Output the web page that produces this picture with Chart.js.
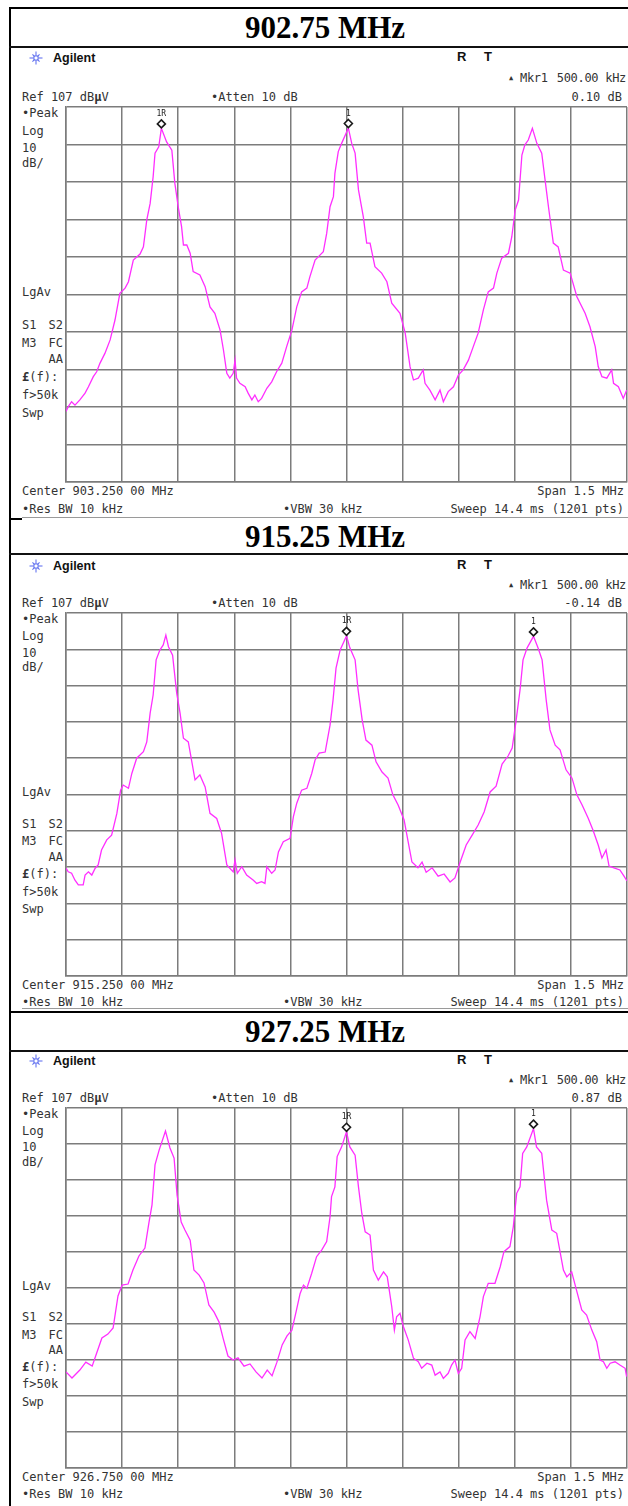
<!DOCTYPE html>
<html>
<head>
<meta charset="utf-8">
<script src="https://cdn.jsdelivr.net/npm/chart.js@4.4.1/dist/chart.umd.min.js"></script>
<style>
  html, body { margin: 0; padding: 0; background: #fff; overflow: hidden; }
  #page { position: relative; width: 628px; height: 1506px; overflow: hidden; background: #fff; }
  .rule { position: absolute; }
  .t { position: absolute; white-space: pre; font-family: "DejaVu Sans Mono", monospace; font-size: 12px;
       line-height: 14px; color: #333; transform: translateY(-50%); }
  .title { position: absolute; white-space: pre; font-family: "Liberation Serif", "Times New Roman", serif;
           font-weight: bold; font-size: 31px; color: #000; transform: translate(-50%, -50%); line-height: 34px; }
  canvas { position: absolute; }
</style>
</head>
<body>
<div id="page"></div>
<script>
// ---- analyser settings shown on every screen ----
const refLevelDbuV = 107;
const dbPerDiv = 10;
const spanKHz = 1500;
const titles = ['902.75 MHz', '915.25 MHz', '927.25 MHz'];
const centerLabels = ['Center 903.250 00 MHz', 'Center 915.250 00 MHz', 'Center 926.750 00 MHz'];
const markerDeltaKHz = 500;
const markerDeltaDb = [0.10, -0.14, 0.87];
const markerDeltaLabels = ['0.10 dB', '-0.14 dB', '0.87 dB'];
const markerRefKHz = [-495, 0, 0];

// ---- traces: offset from centre (kHz) and level (dBµV) ----
const trace1KHz = [-750,-744,-735,-726,-713,-699,-690,-677,-668,-659,-646,-632,-619,-606,-592,-583,-570,-552,-543,-534,-525,-517,-512,-502,-495,-481,-467,-459,-450,-441,-436,-427,-418,-410,-392,-378,-365,-352,-338,-329,-320,-312,-303,-298,-294,-285,-271,-263,-253,-245,-236,-227,-213,-200,-187,-173,-160,-146,-133,-120,-106,-98,-84,-71,-62,-53,-44,-35,-31,-22,-13,5,14,23,32,45,54,63,76,94,108,121,143,157,170,179,192,205,210,223,237,250,259,272,286,299,312,326,339,352,366,379,393,402,415,433,442,451,460,469,477,486,497,509,522,531,540,553,566,580,598,616,638,651,665,673,683,696,709,714,727,740,749];
const trace1Dbuv = [25.8,27.1,28.4,27.5,28.9,30.7,32.4,35.1,36.4,38.7,41.3,44.9,50.2,57.3,58.7,60.4,66.2,67.8,69.7,76.9,81.3,88.4,94.7,96.4,101.3,97.7,95.5,86.7,80.4,75.1,70.2,70.2,68,63.1,62.2,59.1,53.7,52,47.5,42.2,36,34.7,36,39.5,34.7,33.3,32.4,30.7,28.9,30.2,28.4,29.3,32,33.7,36.4,38.7,43.1,47.5,53.7,57.7,58.7,61.7,66.2,67.5,68.4,73.3,80.4,83.1,89.3,95.1,97.3,101.4,97.3,94.7,84.9,77.7,70.7,70.7,64.4,62.7,60.4,54.7,52,46.7,37.7,34.2,34.7,36.9,33.3,31.5,28.9,31.5,28.4,31.1,32.4,35.5,36.9,39.5,43.1,46.7,52.9,57.7,58.7,62.7,66.7,68,72.4,79.5,82.2,94.2,96.9,98.2,101.3,97.3,94.7,87.5,80.4,70.7,69.7,63.5,62.7,56.4,52,48.4,43.1,37.8,35.1,34.7,36.9,33.3,32.4,29.3,31.5];

const trace2KHz = [-750,-744,-735,-726,-717,-704,-699,-690,-681,-672,-664,-655,-641,-628,-614,-604,-597,-583,-574,-561,-543,-534,-525,-517,-509,-499,-490,-483,-476,-465,-454,-445,-436,-423,-405,-392,-378,-365,-347,-334,-320,-303,-298,-292,-280,-267,-249,-240,-227,-218,-213,-200,-191,-182,-169,-151,-142,-133,-120,-106,-93,-84,-73,
  -57,-44,-36,-28,-17,0,9,23,31,42,52,68,79,95,111,124,138,154,165,175,191,202,213,229,245,261,277,290,304,320,336,352,368,384,400,416,432,443,453,464,472,483,500,512,523,534,544,558,571,587,603,616,630,646,659,673,683,694,702,715,731,742,750];
const trace2Dbuv = [36.7,35.7,35.3,33.4,32.1,32.1,34.8,35.7,34.8,36.7,37.6,41.7,44.5,45.8,51.8,58.2,59.6,58.7,62.8,67,68.8,71.5,79.4,84.4,94.1,96.8,98.2,100.9,97.7,95.4,84.9,79.4,72.5,71.5,61,62.4,59.1,51.8,50.4,46.3,37.6,35.7,39,35.3,37.1,34.8,33.4,32.5,33,32.5,37.1,35.3,36.2,41.2,44,44.9,50.9,54.6,58.2,58.7,62.8,66.5,68.4,
  68.7,76.1,83,91.8,96.8,100.7,97.4,94.1,85.8,77.5,72,70.6,66,63.2,61.5,56.9,54.1,50,43.9,38.4,36.8,38.4,35.6,36.8,34.5,35.1,32.9,34,38.4,43.1,45.8,48.6,52.2,57.7,59.3,65.4,67.6,69.8,77,85.8,94.1,97.4,100.56,97.4,94.1,83,74.8,70.6,69.3,63.8,61.5,56.9,54.1,50.5,47.2,43.1,39.5,41.7,37.3,36.8,36.2,34.5,33.2];

const trace3KHz = [-750,-734,-713,-697,-680,-667,-654,-638,-624,-611,-600,-584,-571,-555,-539,-528,-520,-512,-501,-484,-472,-461,-453,-442,-432,-418,-408,-394,-381,-368,-354,-341,-330,-317,-303,-290,-274,-258,-242,-226,-212,-199,-186,-172,-159,-146,-135,
  -124,-115,-106,-93,-80,-66,-53,-44,-40,-31,-25,-13,0,9,23,32,41,50,63,72,85,99,109,121,128,134,143,152,165,179,192,201,215,228,237,250,259,272,281,290,299,308,317,330,344,357,366,379,397,411,421,437,446,455,464,471,482,500,508,522,535,549,562,580,589,602,616,629,642,656,669,678,687,696,705,718,731,745,749];
const trace3Dbuv = [33.7,32,34.2,36.4,35.3,39.2,43.1,44.2,45.9,54.8,57.8,58.1,62,65.9,68.1,75.3,80.1,91.2,95.3,100.6,95.9,93.1,82.8,75.3,73.1,70.3,62,60.6,58.4,52.3,50.3,47.6,43.1,38.1,37,37.6,35.3,35.9,33.7,32,34.2,32.6,36.4,41.2,43.7,45.3,50.3,
  55.5,57.8,56.9,61.1,65.7,67.6,69.9,76.8,82.4,85.1,93.5,96.2,100.4,96.2,93.9,85.1,77.7,72.6,71.7,62,59.2,61.5,60.1,51.8,45.3,49,50,46.3,42.6,37.5,36.5,34.7,36.1,35.6,32.8,33.7,31.9,33.3,35.6,37,33.3,34.7,42.6,44.9,43,49,54.6,58.3,58.3,62.9,67.1,68.5,74,83.3,85.1,94.4,96.2,101.27,96.2,94.4,81.4,73.1,72.2,62,60.1,61.5,56,50.9,49.5,45.3,42.1,37,36.5,34.7,36.1,36.5,35.6,34.7,32.4];

const traceKHz = [trace1KHz, trace2KHz, trace3KHz];
const traceDbuv = [trace1Dbuv, trace2Dbuv, trace3Dbuv];

// ---- page geometry ----
const W = 628;
const gridLeft = 66, gridWidth = 561;
const screens = [
  { titleY: 28,   gridTop: 107,  gridHeight: 375 },
  { titleY: 537,  gridTop: 613,  gridHeight: 363 },
  { titleY: 1032, gridTop: 1108, gridHeight: 360 }
];

const page = document.getElementById('page');

function rule(x, y, w, h, color) {
  const d = document.createElement('div');
  d.className = 'rule';
  Object.assign(d.style, { left: x + 'px', top: y + 'px', width: w + 'px', height: h + 'px', background: color });
  page.appendChild(d);
}

function text(str, x, y, opt = {}) {
  const d = document.createElement('div');
  d.className = opt.cls || 't';
  d.innerHTML = str;
  if (opt.align === 'right') { d.style.right = (W - x) + 'px'; }
  else { d.style.left = x + 'px'; }
  d.style.top = y + 'px';
  if (opt.style) Object.assign(d.style, opt.style);
  page.appendChild(d);
  return d;
}

function agilentLogo(cx, cy) {
  const ns = 'http://www.w3.org/2000/svg';
  const svg = document.createElementNS(ns, 'svg');
  svg.setAttribute('width', 14); svg.setAttribute('height', 14);
  Object.assign(svg.style, { position: 'absolute', left: (cx - 7) + 'px', top: (cy - 7) + 'px' });
  for (let k = 0; k < 8; k++) {
    const a = k * Math.PI / 4;
    const l = document.createElementNS(ns, 'line');
    const r = (k % 2) ? 5 : 6.5;
    l.setAttribute('x1', 7 + Math.cos(a) * 2); l.setAttribute('y1', 7 + Math.sin(a) * 2);
    l.setAttribute('x2', 7 + Math.cos(a) * r); l.setAttribute('y2', 7 + Math.sin(a) * r);
    l.setAttribute('stroke', '#6474f0'); l.setAttribute('stroke-width', '1.1');
    svg.appendChild(l);
  }
  const c = document.createElementNS(ns, 'rect');
  c.setAttribute('x', 5); c.setAttribute('y', 5); c.setAttribute('width', 4); c.setAttribute('height', 4);
  c.setAttribute('fill', 'none'); c.setAttribute('stroke', '#6474f0'); c.setAttribute('stroke-width', '1');
  svg.appendChild(c);
  page.appendChild(svg);
}

// outer table frame and row rules
rule(9, 7, W - 9, 2.2, '#000');
rule(9, 7, 2.2, 1506 - 7, '#000');
rule(9, 46, W - 9, 1.5, '#111');
rule(22, 517, W - 22, 1, '#9a9a9a');
rule(9, 518, 13, 1.8, '#000');
rule(9, 553, W - 9, 1.5, '#111');
rule(22, 1008, W - 22, 1, '#9a9a9a');
rule(9, 1011, W - 9, 1.8, '#000');
rule(9, 1050, W - 9, 1.5, '#111');

// marker diamonds with their labels, placed through the chart scales
const markerPlugin = {
  id: 'analyserMarkers',
  afterDatasetsDraw(chart, args, opts) {
    const { ctx, scales: { x, y } } = chart;
    opts.marks.forEach(m => {
      const px = x.getPixelForValue(m.kHz);
      const cy = y.getPixelForValue(m.level) - 4.5;
      ctx.save();
      ctx.beginPath();
      ctx.moveTo(px, cy - 4); ctx.lineTo(px + 4, cy); ctx.lineTo(px, cy + 4); ctx.lineTo(px - 4, cy); ctx.closePath();
      ctx.fillStyle = '#fff'; ctx.fill();
      ctx.lineWidth = 1.6; ctx.strokeStyle = '#1a1a1a'; ctx.stroke();
      ctx.font = '8px "DejaVu Sans Mono"';
      ctx.fillStyle = '#222'; ctx.textAlign = 'center'; ctx.textBaseline = 'middle';
      ctx.fillText(m.label, px, cy - 10);
      ctx.restore();
    });
  }
};

screens.forEach((S, i) => {
  const s = S.gridHeight / 375;
  const top = S.gridTop, bottom = S.gridTop + S.gridHeight;

  // title cell
  text(titles[i], 325, S.titleY, { cls: 'title' });

  // instrument header
  const hy = top - 49 * s;
  const bold = { fontFamily: '"Liberation Sans", Arial, sans-serif', fontWeight: 'bold', color: '#111' };
  agilentLogo(36, hy);
  text('Agilent', 53, hy, { style: Object.assign({ fontSize: '12.5px' }, bold) });
  text('R', 457, hy - 1, { style: Object.assign({ fontSize: '13px' }, bold) });
  text('T', 484, hy - 1, { style: Object.assign({ fontSize: '13px' }, bold) });
  text('&#9650;', 511, top - 29 * s, { style: { fontSize: '7px', transform: 'translate(-50%,-50%)' } });
  text('Mkr1', 520, top - 29 * s, { style: { letterSpacing: '-0.3px' } });
  text('500.00 kHz', 626, top - 29 * s, { align: 'right', style: { letterSpacing: '-0.3px' } });
  text('Ref 107 dB<b>µ</b>V', 22, top - 10 * s);
  text('•Atten 10 dB', 211, top - 10 * s);
  text(markerDeltaLabels[i], 622, top - 10 * s, { align: 'right' });

  // left annotation column
  const left = [['•Peak', 6], ['Log', 24], ['10', 41], ['dB/', 56], ['LgAv', 185], ['S1', 218], ['M3', 236], ['<b>£</b>(f):', 270], ['f>50k', 288], ['Swp', 306]];
  left.forEach(([t, dy]) => text(t, 22, top + dy * s));
  text('S2', 63, top + 218 * s, { align: 'right' });
  text('FC', 63, top + 236 * s, { align: 'right' });
  text('AA', 63, top + 252 * s, { align: 'right' });

  // footer
  text(centerLabels[i], 22, bottom + 9 * s);
  text('Span 1.5 MHz', 624, bottom + 9 * s, { align: 'right' });
  text('•Res BW 10 kHz', 22, bottom + 27 * s);
  text('•VBW 30 kHz', 283, bottom + 27 * s);
  text('Sweep 14.4 ms (1201 pts)', 624, bottom + 27 * s, { align: 'right' });

  // graticule and trace
  const pad = 4;
  const cv = document.createElement('canvas');
  cv.width = gridWidth + 2 * pad; cv.height = S.gridHeight + 2 * pad;
  Object.assign(cv.style, { left: (gridLeft - pad) + 'px', top: (top - pad) + 'px', width: cv.width + 'px', height: cv.height + 'px' });
  page.appendChild(cv);

  const kHz = traceKHz[i], lvl = traceDbuv[i];
  const refK = markerRefKHz[i];
  const refLvl = lvl[kHz.indexOf(refK)];
  const deltaK = refK + markerDeltaKHz;
  const marks = [
    { kHz: refK, level: refLvl, label: '1R' },
    { kHz: deltaK, level: refLvl + markerDeltaDb[i], label: '1' }
  ];

  const gridStyle = { color: '#7c7c7c', lineWidth: 1.5, drawTicks: false };
  const borderStyle = { color: '#7c7c7c', width: 1.5 };
  new Chart(cv.getContext('2d'), {
    type: 'scatter',
    data: {
      datasets: [{
        data: kHz.map((f, k) => ({ x: f, y: lvl[k] })),
        showLine: true,
        borderColor: '#ff2eff',
        borderWidth: 1.3,
        pointRadius: 0,
        tension: 0,
        fill: false
      }]
    },
    options: {
      responsive: false,
      animation: false,
      layout: { padding: pad },
      plugins: { legend: { display: false }, tooltip: { enabled: false }, analyserMarkers: { marks } },
      scales: {
        x: { type: 'linear', min: -spanKHz / 2, max: spanKHz / 2,
             ticks: { display: false, stepSize: spanKHz / 10 }, grid: gridStyle, border: borderStyle },
        y: { type: 'linear', min: refLevelDbuV - 10 * dbPerDiv, max: refLevelDbuV,
             ticks: { display: false, stepSize: dbPerDiv }, grid: gridStyle, border: borderStyle }
      }
    },
    plugins: [markerPlugin]
  });
});
</script>
</body>
</html>
